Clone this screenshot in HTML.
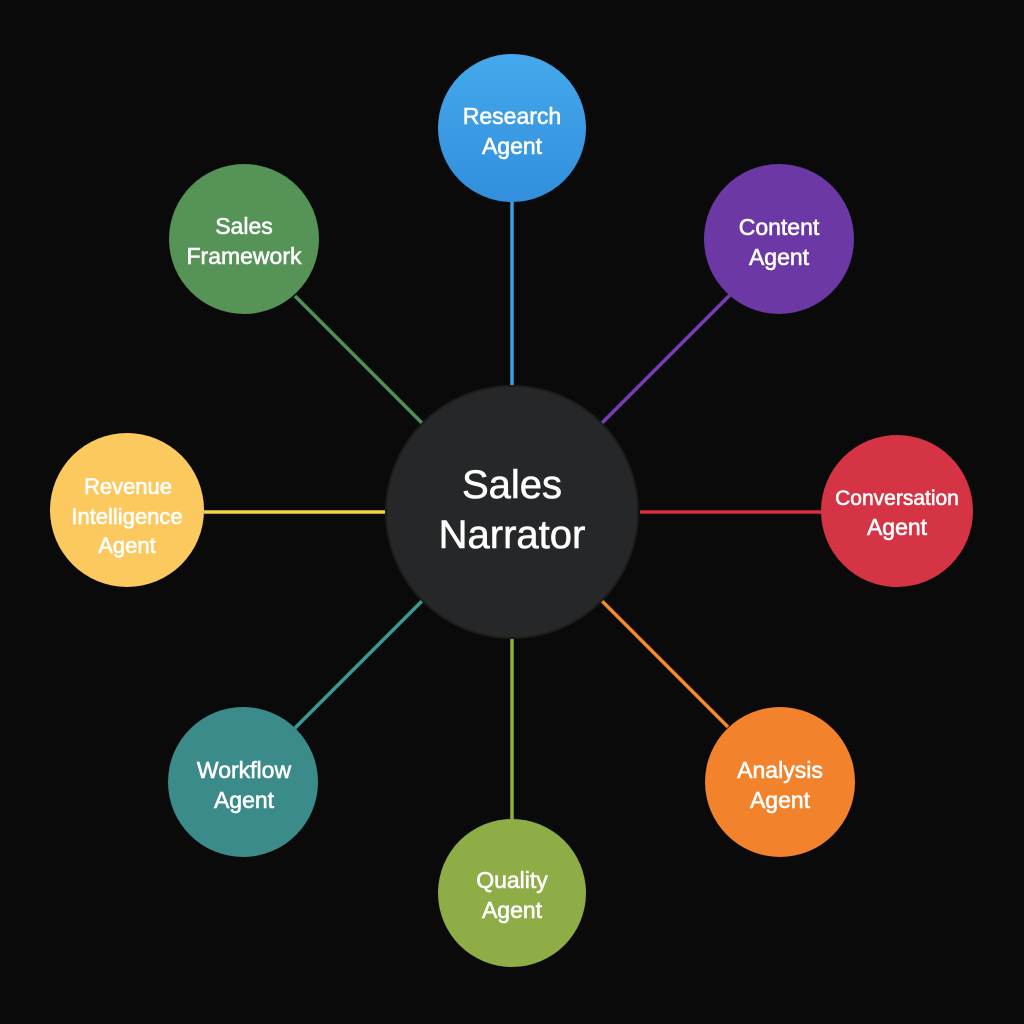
<!DOCTYPE html>
<html><head><meta charset="utf-8"><style>
html,body{margin:0;padding:0;background:#0a0a0a;}
svg{display:block}
text{font-family:"Liberation Sans","DejaVu Sans",sans-serif;fill:#fff;text-anchor:middle;stroke:#fff;stroke-width:0.6px;}
</style></head><body>
<svg width="1024" height="1024" viewBox="0 0 1024 1024" xmlns="http://www.w3.org/2000/svg">
<defs>
<linearGradient id="gb" x1="0" y1="0" x2="0" y2="1"><stop offset="0" stop-color="#45a8ec"/><stop offset="1" stop-color="#318fdc"/></linearGradient>
</defs>
<rect width="1024" height="1024" fill="#0a0a0a"/>
<g stroke-width="3.5">
<line x1="512" y1="200" x2="512" y2="388" stroke="#3a9be6"/>
<line x1="730" y1="295" x2="602" y2="423" stroke="#7a3bb8"/>
<line x1="640" y1="512" x2="822" y2="512" stroke="#d83040"/>
<line x1="602" y1="601" x2="728" y2="727" stroke="#f58a2c"/>
<line x1="512" y1="638" x2="512" y2="822" stroke="#8fae3c"/>
<line x1="422" y1="601" x2="295" y2="728" stroke="#3a9a96"/>
<line x1="204" y1="512" x2="386" y2="512" stroke="#f5d04a"/>
<line x1="422" y1="423" x2="295" y2="296" stroke="#4f9158"/>
</g>
<circle cx="512" cy="512" r="126" fill="#262728" stroke="#1c1c1c" stroke-width="2"/>
<text x="512" y="498" font-size="40">Sales</text>
<text x="512" y="548" font-size="40">Narrator</text>

<circle cx="512" cy="128" r="74" fill="url(#gb)"/>
<text x="512" y="124" font-size="23">Research</text>
<text x="512" y="154" font-size="23">Agent</text>

<circle cx="779" cy="239" r="75" fill="#6b38a5"/>
<text x="779" y="235" font-size="23">Content</text>
<text x="779" y="265" font-size="23">Agent</text>

<circle cx="897" cy="511" r="76" fill="#d43444"/>
<text x="897" y="505" font-size="21">Conversation</text>
<text x="897" y="535" font-size="23">Agent</text>

<circle cx="780" cy="782" r="75" fill="#f2822b"/>
<text x="780" y="778" font-size="23">Analysis</text>
<text x="780" y="808" font-size="23">Agent</text>

<circle cx="512" cy="893" r="74" fill="#8fad46"/>
<text x="512" y="888" font-size="23">Quality</text>
<text x="512" y="918" font-size="23">Agent</text>

<circle cx="243" cy="782" r="75" fill="#3c8b8b"/>
<text x="244" y="778" font-size="23">Workflow</text>
<text x="244" y="808" font-size="23">Agent</text>

<circle cx="127" cy="510" r="77" fill="#fcc95f"/>
<text x="128" y="494" font-size="22">Revenue</text>
<text x="127" y="524" font-size="22">Intelligence</text>
<text x="127" y="553" font-size="22">Agent</text>

<circle cx="244" cy="239" r="75" fill="#559357"/>
<text x="244" y="234" font-size="23">Sales</text>
<text x="244" y="264" font-size="23">Framework</text>
</svg>
</body></html>
